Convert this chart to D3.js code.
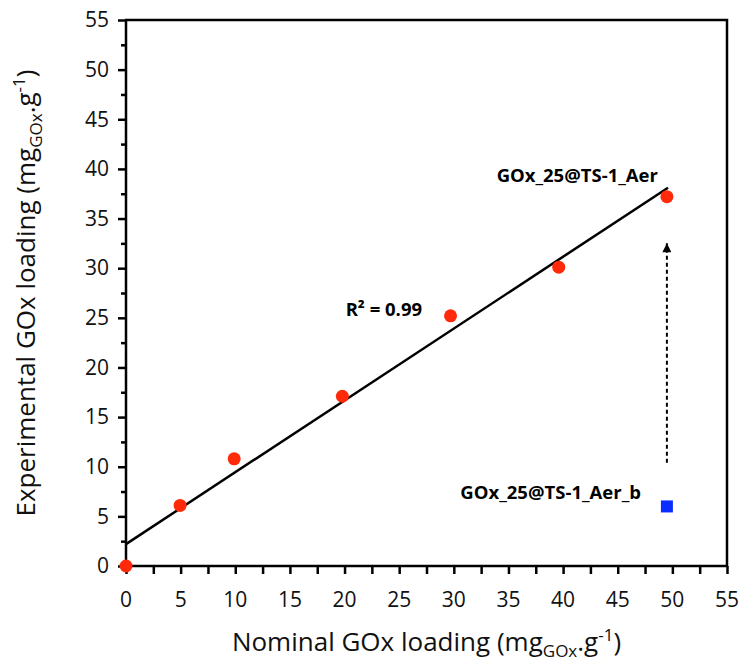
<!DOCTYPE html>
<html>
<head>
<meta charset="utf-8">
<script src="https://cdn.jsdelivr.net/npm/d3@7"></script>
<style>
	body { margin: 0; background: #fff; }
	svg { display: block; font-family: 'Open Sans', sans-serif; }
</style>
</head>
<body>
<svg id="chart" width="743" height="666"></svg>
<script>
/* global d3 */

// nominal vs experimental loading (mg GOx per g)
let nominal = [0, 4.95, 9.9, 19.8, 29.7, 39.6, 49.5],
	experimental = [0, 6.1, 10.8, 17.1, 25.2, 30.1, 37.2],
	blankPoint = [49.5, 6.0],
	xTicks = [0, 5, 10, 15, 20, 25, 30, 35, 40, 45, 50, 55],
	yTicks = [0, 5, 10, 15, 20, 25, 30, 35, 40, 45, 50, 55],
	fitLabel = 'R\u00b2 = 0.99',
	topLabel = 'GOx_25@TS-1_Aer',
	bottomLabel = 'GOx_25@TS-1_Aer_b';

let svg = d3.select('#chart'),
	margin = {top: 20, right: 16, bottom: 100, left: 126},
	width = 743 - margin.left - margin.right,
	height = 666 - margin.top - margin.bottom,
	x = d3.scaleLinear().domain([0, 55]).range([0, width]),
	y = d3.scaleLinear().domain([0, 55]).range([height, 0]),
	g = svg.append('g').attr('transform', 'translate(' + margin.left + ',' + margin.top + ')'),
	points = nominal.map(function(d, i) { return [d, experimental[i]]; });

// least squares fit for the trend line
function fit(data) {
	var mx = d3.mean(data, function(d) { return d[0]; }),
		my = d3.mean(data, function(d) { return d[1]; }),
		sxy = d3.sum(data, function(d) { return (d[0] - mx) * (d[1] - my); }),
		sxx = d3.sum(data, function(d) { return (d[0] - mx) * (d[0] - mx); }),
		slope = sxy / sxx;
	return {slope: slope, intercept: my - slope * mx};
}

let line = fit(points),
	xEnd = d3.max(nominal) + 0.1;

// minor ticks every 2.5
let xAxis = d3.axisBottom(x).tickValues(d3.range(0, 55.1, 2.5)).tickSize(8).tickFormat(''),
	yMinor = d3.axisLeft(y).tickValues(d3.range(2.5, 55, 5)).tickSize(5).tickFormat(''),
	yMajor = d3.axisLeft(y).tickValues(yTicks).tickSize(8).tickPadding(9);

g.append('g')
	.attr('class', 'axis axis--x')
	.attr('transform', 'translate(0,' + height + ')')
	.call(xAxis);

g.append('g').attr('class', 'axis axis--y').call(yMinor);
g.append('g').attr('class', 'axis axis--y').call(yMajor);

g.selectAll('.xlab')
	.data(xTicks)
	.enter().append('text')
		.attr('class', 'xlab')
		.attr('x', function(d) { return x(d); })
		.attr('y', height + 41)
		.attr('text-anchor', 'middle')
		.style('font-size', '21px')
		.style('fill', '#111')
		.text(function(d) { return d; });

g.selectAll('.axis path, .axis line')
	.attr('stroke', '#000')
	.attr('stroke-width', 2.5);
g.selectAll('.axis path').remove();
g.selectAll('.axis--y text')
	.style('font-size', '21px')
	.style('font-family', "'Open Sans', sans-serif")
	.style('fill', '#111');

// frame
g.append('rect')
	.attr('x', 0)
	.attr('y', 0)
	.attr('width', width)
	.attr('height', height)
	.attr('fill', 'none')
	.attr('stroke', '#000')
	.attr('stroke-width', 2.5);

// trend line
g.append('line')
	.attr('x1', x(0))
	.attr('y1', y(line.intercept))
	.attr('x2', x(xEnd))
	.attr('y2', y(line.intercept + line.slope * xEnd))
	.attr('stroke', '#000')
	.attr('stroke-width', 2.5);

// dotted arrow from blank point up to the loaded sample
svg.append('defs').append('marker')
	.attr('id', 'head')
	.attr('viewBox', '0 0 10 10')
	.attr('refX', 10)
	.attr('refY', 5)
	.attr('markerWidth', 11)
	.attr('markerHeight', 9)
	.attr('markerUnits', 'userSpaceOnUse')
	.attr('orient', 'auto')
	.append('path')
		.attr('d', 'M0,0 L10,5 L0,10 Z')
		.attr('fill', '#000');

g.append('line')
	.attr('x1', x(blankPoint[0]))
	.attr('x2', x(blankPoint[0]))
	.attr('y1', y(10.4))
	.attr('y2', y(32.5))
	.attr('stroke', '#000')
	.attr('stroke-width', 2)
	.attr('stroke-dasharray', '4,3')
	.attr('marker-end', 'url(#head)');

g.selectAll('.dot')
	.data(points)
	.enter().append('circle')
		.attr('class', 'dot')
		.attr('cx', function(d) { return x(d[0]); })
		.attr('cy', function(d) { return y(d[1]); })
		.attr('r', 6.5)
		.attr('fill', '#ff2a0a');

g.append('rect')
	.attr('x', x(blankPoint[0]) - 6)
	.attr('y', y(blankPoint[1]) - 6)
	.attr('width', 12)
	.attr('height', 12)
	.attr('fill', '#0a2cff');

// annotations
g.append('text')
	.attr('x', x(41.3))
	.attr('y', y(38.7))
	.attr('text-anchor', 'middle')
	.style('font-size', '18.5px')
	.style('font-weight', 'bold')
	.text(topLabel);

g.append('text')
	.attr('x', x(20.1))
	.attr('y', y(25.15))
	.style('font-size', '18.5px')
	.style('font-weight', 'bold')
	.text(fitLabel);

g.append('text')
	.attr('x', x(30.6))
	.attr('y', y(6.7))
	.style('font-size', '18.5px')
	.style('font-weight', 'bold')
	.text(bottomLabel);

// axis titles
let xTitle = svg.append('text')
	.attr('x', margin.left + width / 2)
	.attr('y', 651)
	.attr('text-anchor', 'middle')
	.style('font-size', '26px')
	.style('fill', '#111');
xTitle.append('tspan').text('Nominal GOx loading (mg');
xTitle.append('tspan').attr('dy', 6).style('font-size', '17px').text('GOx');
xTitle.append('tspan').attr('dy', -6).text('.g');
xTitle.append('tspan').attr('dy', -10).style('font-size', '17px').text('-1');
xTitle.append('tspan').attr('dy', 10).text(')');

let yTitle = svg.append('text')
	.attr('transform', 'translate(35,' + (margin.top + height / 2) + ') rotate(-90)')
	.attr('text-anchor', 'middle')
	.style('font-size', '26px')
	.style('fill', '#111');
yTitle.append('tspan').text('Experimental GOx loading (mg');
yTitle.append('tspan').attr('dy', 7).style('font-size', '17px').text('GOx');
yTitle.append('tspan').attr('dy', -7).text('.g');
yTitle.append('tspan').attr('dy', -10).style('font-size', '17px').text('-1');
yTitle.append('tspan').attr('dy', 10).text(')');
</script>
</body>
</html>
